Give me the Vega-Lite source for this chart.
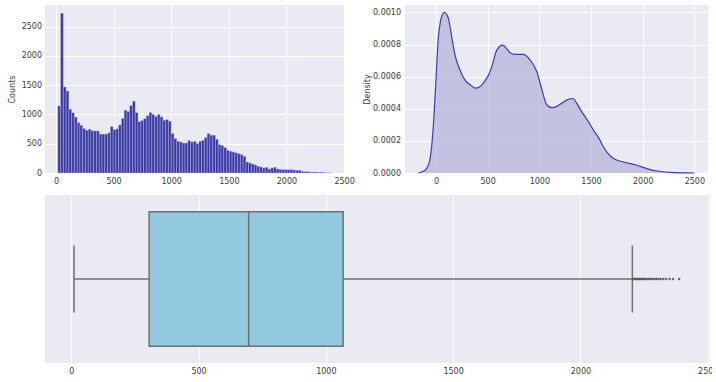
{
  "$schema": "https://vega.github.io/schema/vega-lite/v6.json",
  "autosize": {"type": "pad"},
  "padding": {"left": 5, "top": 5, "right": -6, "bottom": 2},
  "background": "white",
  "spacing": 8,
  "vconcat": [
    {
      "spacing": 60,
      "bounds": "flush",
      "hconcat": [
        {
          "width": 300,
          "height": 168,
          "data": {"name": "hist"},
          "mark": {"type": "rect", "fill": "#3a3aa5", "stroke": "#c4c4e2", "strokeWidth": 0.4},
          "encoding": {
            "x": {"field": "x0", "type": "quantitative", "scale": {"domain": [-95, 2508], "nice": false, "zero": false},
                  "axis": {"values": [0, 500, 1000, 1500, 2000, 2500], "format": "d", "title": null, "grid": true, "minExtent": 14, "maxExtent": 14}},
            "x2": {"field": "x1"},
            "y": {"field": "count", "type": "quantitative", "scale": {"domain": [0, 2870], "nice": false},
                  "axis": {"values": [0, 500, 1000, 1500, 2000, 2500], "format": "d", "title": "Counts", "titleX": -33, "titleBaseline": "middle", "labelPadding": 3.5, "grid": true, "minExtent": 40, "maxExtent": 40}},
            "y2": {"datum": 0}
          }
        },
        {
          "width": 303,
          "height": 168,
          "data": {"name": "kde"},
          "mark": {"type": "area", "color": "#b0b0d8", "interpolate": "monotone", "line": {"color": "#3c3cac", "strokeWidth": 1.2}},
          "encoding": {
            "x": {"field": "x", "type": "quantitative", "scale": {"domain": [-300, 2632], "nice": false, "zero": false},
                  "axis": {"values": [0, 500, 1000, 1500, 2000, 2500], "format": "d", "title": null, "grid": true, "minExtent": 14, "maxExtent": 14}},
            "y": {"field": "density", "type": "quantitative", "scale": {"domain": [0, 0.001046], "nice": false},
                  "axis": {"values": [0, 0.0002, 0.0004, 0.0006, 0.0008, 0.001], "format": ".4f", "title": "Density", "titleX": -38, "titleBaseline": "middle", "labelPadding": 4.5, "grid": true}}
          }
        }
      ]
    },
    {
      "width": 665,
      "height": 168,
      "layer": [
        {
          "data": {"name": "box"},
          "mark": {"type": "rule", "color": "#707070", "strokeWidth": 1.5},
          "encoding": {
            "x": {"field": "lo", "type": "quantitative", "scale": {"domain": [-103, 2509], "nice": false, "zero": false},
                  "axis": {"values": [0, 500, 1000, 1500, 2000, 2500], "format": "d", "title": null, "grid": true}},
            "x2": {"field": "hi"},
            "y": {"field": "grp", "type": "nominal", "scale": {"type": "band", "paddingInner": 0, "paddingOuter": 0},
                  "axis": {"labels": false, "ticks": false, "domain": false, "grid": false, "title": null, "minExtent": 40, "maxExtent": 40}}
          }
        },
        {
          "data": {"name": "box"},
          "mark": {"type": "tick", "orient": "vertical", "color": "#707070", "size": 67, "thickness": 1.5, "opacity": 1},
          "encoding": {
            "x": {"field": "lo", "type": "quantitative"},
            "y": {"field": "grp", "type": "nominal"}
          }
        },
        {
          "data": {"name": "box"},
          "mark": {"type": "tick", "orient": "vertical", "color": "#707070", "size": 67, "thickness": 1.5, "opacity": 1},
          "encoding": {
            "x": {"field": "hi", "type": "quantitative"},
            "y": {"field": "grp", "type": "nominal"}
          }
        },
        {
          "data": {"name": "box"},
          "mark": {"type": "bar", "height": {"band": 0.8}, "fill": "#93C9DE", "stroke": "#6F6F6F", "strokeWidth": 1.5},
          "encoding": {
            "x": {"field": "q1", "type": "quantitative"},
            "x2": {"field": "q3"},
            "y": {"field": "grp", "type": "nominal"}
          }
        },
        {
          "data": {"name": "box"},
          "mark": {"type": "tick", "orient": "vertical", "color": "#6F6F6F", "size": 134, "thickness": 1.5, "opacity": 1},
          "encoding": {
            "x": {"field": "med", "type": "quantitative"},
            "y": {"field": "grp", "type": "nominal"}
          }
        },
        {
          "data": {"name": "out"},
          "mark": {"type": "point", "shape": "diamond", "filled": true, "size": 9, "color": "#5a5a5a", "opacity": 1},
          "encoding": {
            "x": {"field": "x", "type": "quantitative"},
            "y": {"field": "grp", "type": "nominal"}
          }
        }
      ]
    }
  ],
  "datasets": {
    "box": [{"grp": "a", "lo": 11, "q1": 306, "med": 697, "q3": 1068, "hi": 2204}],
    "out": [
      {"grp": "a", "x": 2207}, {"grp": "a", "x": 2211}, {"grp": "a", "x": 2215}, {"grp": "a", "x": 2219},
      {"grp": "a", "x": 2223}, {"grp": "a", "x": 2228}, {"grp": "a", "x": 2233}, {"grp": "a", "x": 2238},
      {"grp": "a", "x": 2243}, {"grp": "a", "x": 2249}, {"grp": "a", "x": 2255}, {"grp": "a", "x": 2261},
      {"grp": "a", "x": 2268}, {"grp": "a", "x": 2275}, {"grp": "a", "x": 2282}, {"grp": "a", "x": 2290},
      {"grp": "a", "x": 2298}, {"grp": "a", "x": 2306}, {"grp": "a", "x": 2315}, {"grp": "a", "x": 2325},
      {"grp": "a", "x": 2336}, {"grp": "a", "x": 2350}, {"grp": "a", "x": 2364}, {"grp": "a", "x": 2388}
    ],
    "hist": [
      {"x0": 16, "x1": 40, "count": 1147}, {"x0": 40, "x1": 64, "count": 2730}, {"x0": 64, "x1": 88, "count": 1470},
      {"x0": 88, "x1": 112, "count": 1400}, {"x0": 112, "x1": 136, "count": 1090}, {"x0": 136, "x1": 160, "count": 1030},
      {"x0": 160, "x1": 184, "count": 955}, {"x0": 184, "x1": 208, "count": 860}, {"x0": 208, "x1": 232, "count": 815},
      {"x0": 232, "x1": 256, "count": 760}, {"x0": 256, "x1": 280, "count": 730}, {"x0": 280, "x1": 304, "count": 748},
      {"x0": 304, "x1": 328, "count": 725}, {"x0": 328, "x1": 352, "count": 719}, {"x0": 352, "x1": 376, "count": 719},
      {"x0": 376, "x1": 400, "count": 665}, {"x0": 400, "x1": 424, "count": 665}, {"x0": 424, "x1": 448, "count": 665},
      {"x0": 448, "x1": 472, "count": 685}, {"x0": 472, "x1": 496, "count": 793}, {"x0": 496, "x1": 520, "count": 742},
      {"x0": 520, "x1": 544, "count": 753}, {"x0": 544, "x1": 568, "count": 822}, {"x0": 568, "x1": 592, "count": 930},
      {"x0": 592, "x1": 616, "count": 1073}, {"x0": 616, "x1": 640, "count": 1050}, {"x0": 640, "x1": 664, "count": 1153},
      {"x0": 664, "x1": 688, "count": 1227}, {"x0": 688, "x1": 712, "count": 1033}, {"x0": 712, "x1": 736, "count": 879},
      {"x0": 736, "x1": 760, "count": 896}, {"x0": 760, "x1": 784, "count": 930}, {"x0": 784, "x1": 808, "count": 980},
      {"x0": 808, "x1": 832, "count": 1033}, {"x0": 832, "x1": 856, "count": 999}, {"x0": 856, "x1": 880, "count": 965},
      {"x0": 880, "x1": 904, "count": 999}, {"x0": 904, "x1": 928, "count": 959}, {"x0": 928, "x1": 952, "count": 902},
      {"x0": 952, "x1": 976, "count": 913}, {"x0": 976, "x1": 1000, "count": 885}, {"x0": 1000, "x1": 1024, "count": 673},
      {"x0": 1024, "x1": 1048, "count": 588}, {"x0": 1048, "x1": 1072, "count": 542}, {"x0": 1072, "x1": 1096, "count": 530},
      {"x0": 1096, "x1": 1120, "count": 513}, {"x0": 1120, "x1": 1144, "count": 513}, {"x0": 1144, "x1": 1168, "count": 553},
      {"x0": 1168, "x1": 1192, "count": 530}, {"x0": 1192, "x1": 1216, "count": 542}, {"x0": 1216, "x1": 1240, "count": 502},
      {"x0": 1240, "x1": 1264, "count": 542}, {"x0": 1264, "x1": 1288, "count": 559}, {"x0": 1288, "x1": 1312, "count": 605},
      {"x0": 1312, "x1": 1336, "count": 673}, {"x0": 1336, "x1": 1360, "count": 645}, {"x0": 1360, "x1": 1384, "count": 645},
      {"x0": 1384, "x1": 1408, "count": 576}, {"x0": 1408, "x1": 1432, "count": 485}, {"x0": 1432, "x1": 1456, "count": 468},
      {"x0": 1456, "x1": 1480, "count": 434}, {"x0": 1480, "x1": 1504, "count": 388}, {"x0": 1504, "x1": 1528, "count": 371},
      {"x0": 1528, "x1": 1552, "count": 359}, {"x0": 1552, "x1": 1576, "count": 345}, {"x0": 1576, "x1": 1600, "count": 330},
      {"x0": 1600, "x1": 1624, "count": 312}, {"x0": 1624, "x1": 1648, "count": 285}, {"x0": 1648, "x1": 1672, "count": 188},
      {"x0": 1672, "x1": 1696, "count": 171}, {"x0": 1696, "x1": 1720, "count": 154}, {"x0": 1720, "x1": 1744, "count": 137},
      {"x0": 1744, "x1": 1768, "count": 114}, {"x0": 1768, "x1": 1792, "count": 103}, {"x0": 1792, "x1": 1816, "count": 86},
      {"x0": 1816, "x1": 1840, "count": 97}, {"x0": 1840, "x1": 1864, "count": 68}, {"x0": 1864, "x1": 1888, "count": 86},
      {"x0": 1888, "x1": 1912, "count": 97}, {"x0": 1912, "x1": 1936, "count": 68}, {"x0": 1936, "x1": 1960, "count": 63},
      {"x0": 1960, "x1": 1984, "count": 57}, {"x0": 1984, "x1": 2008, "count": 57}, {"x0": 2008, "x1": 2032, "count": 57},
      {"x0": 2032, "x1": 2056, "count": 57}, {"x0": 2056, "x1": 2080, "count": 51}, {"x0": 2080, "x1": 2104, "count": 46},
      {"x0": 2104, "x1": 2128, "count": 46}, {"x0": 2128, "x1": 2152, "count": 29}, {"x0": 2152, "x1": 2176, "count": 23},
      {"x0": 2176, "x1": 2200, "count": 23}, {"x0": 2200, "x1": 2224, "count": 17}, {"x0": 2224, "x1": 2248, "count": 17},
      {"x0": 2248, "x1": 2272, "count": 17}, {"x0": 2272, "x1": 2296, "count": 11}, {"x0": 2296, "x1": 2320, "count": 15},
      {"x0": 2320, "x1": 2344, "count": 6}, {"x0": 2344, "x1": 2368, "count": 4}, {"x0": 2368, "x1": 2392, "count": 3}
    ],
    "kde": [
      {"x": -170, "density": 0}, {"x": -150, "density": 0.000003}, {"x": -120, "density": 0.000012},
      {"x": -90, "density": 0.00003}, {"x": -60, "density": 0.00008}, {"x": -40, "density": 0.00018},
      {"x": -20, "density": 0.00035}, {"x": 0, "density": 0.00058}, {"x": 6, "density": 0.00066},
      {"x": 22, "density": 0.000838}, {"x": 45, "density": 0.00095}, {"x": 65, "density": 0.00099},
      {"x": 81, "density": 0.001}, {"x": 100, "density": 0.00099}, {"x": 120, "density": 0.000963},
      {"x": 152, "density": 0.000848}, {"x": 184, "density": 0.000734}, {"x": 233, "density": 0.00064},
      {"x": 281, "density": 0.000578}, {"x": 330, "density": 0.00055}, {"x": 380, "density": 0.000528},
      {"x": 420, "density": 0.000535}, {"x": 470, "density": 0.00057}, {"x": 500, "density": 0.0006},
      {"x": 540, "density": 0.000661}, {"x": 588, "density": 0.000765}, {"x": 646, "density": 0.000796},
      {"x": 690, "density": 0.00077}, {"x": 717, "density": 0.000748}, {"x": 765, "density": 0.000738},
      {"x": 846, "density": 0.000738}, {"x": 911, "density": 0.000703}, {"x": 976, "density": 0.00063},
      {"x": 1024, "density": 0.00052}, {"x": 1072, "density": 0.000425}, {"x": 1121, "density": 0.000407},
      {"x": 1169, "density": 0.000415}, {"x": 1218, "density": 0.000435}, {"x": 1270, "density": 0.000455},
      {"x": 1325, "density": 0.000464}, {"x": 1363, "density": 0.000433}, {"x": 1402, "density": 0.00039},
      {"x": 1444, "density": 0.000349}, {"x": 1486, "density": 0.000308}, {"x": 1524, "density": 0.000266},
      {"x": 1573, "density": 0.00022}, {"x": 1621, "density": 0.000162}, {"x": 1670, "density": 0.000117},
      {"x": 1718, "density": 0.00009}, {"x": 1815, "density": 0.0000686}, {"x": 1944, "density": 0.000048},
      {"x": 2041, "density": 0.0000274}, {"x": 2138, "density": 0.0000125}, {"x": 2267, "density": 0.000004},
      {"x": 2400, "density": 0.000001}, {"x": 2500, "density": 0}
    ]
  },
  "config": {
    "view": {"fill": "#EAEAF2", "stroke": null},
    "font": "DejaVu Sans",
    "axis": {
      "domain": false,
      "ticks": false,
      "tickSize": 0,
      "gridColor": "#FFFFFF",
      "gridWidth": 1,
      "gridOpacity": 1,
      "labelFont": "DejaVu Sans",
      "labelFontSize": 8,
      "labelColor": "#3a3a3a",
      "labelFlush": false,
      "labelPadding": 4,
      "titleFont": "DejaVu Sans",
      "titleFontSize": 8,
      "titleFontWeight": "normal",
      "titleColor": "#3a3a3a"
    }
  }
}
